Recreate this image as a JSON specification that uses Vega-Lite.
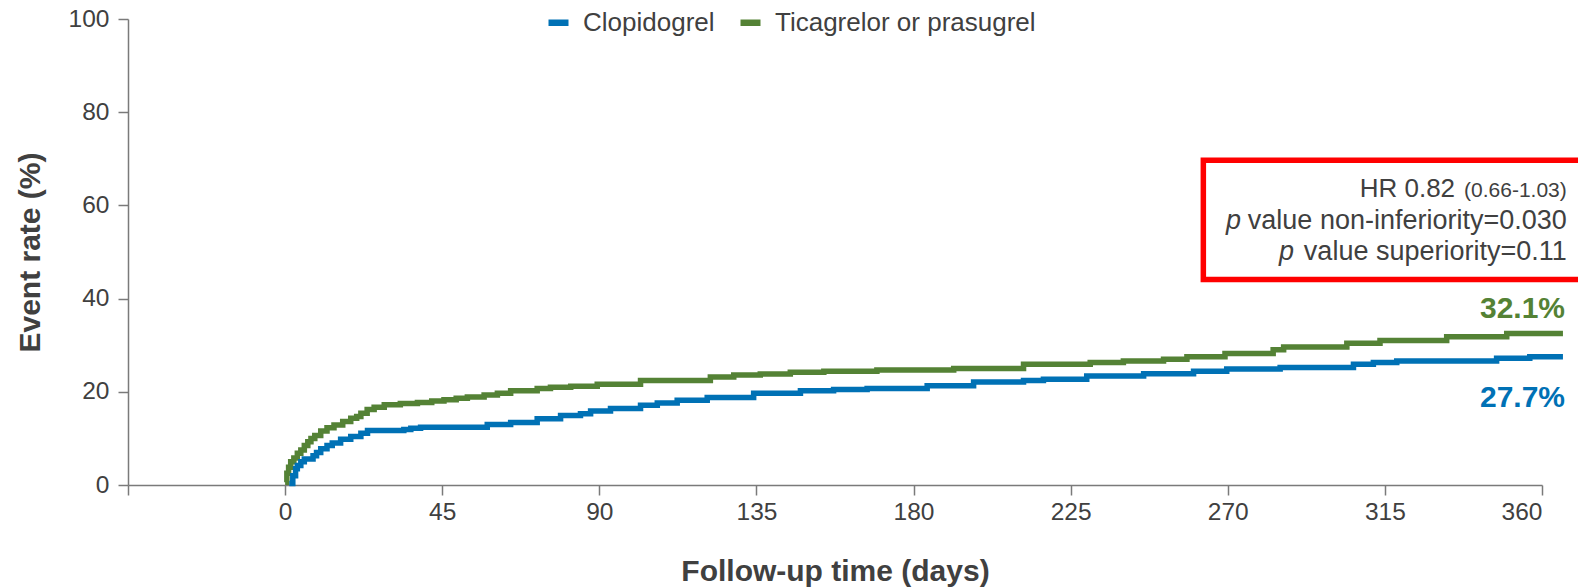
{
  "$schema": "https://vega.github.io/schema/vega-lite/v6.json",
  "width": 1414,
  "height": 466,
  "autosize": {"type": "none"},
  "padding": {"left": 128, "top": 19, "right": 36, "bottom": 102},
  "config": {
    "font": "Liberation Sans",
    "view": {"stroke": null},
    "axis": {
      "grid": false,
      "domainColor": "#7a7a7a",
      "domainWidth": 1.5,
      "tickColor": "#7a7a7a",
      "tickWidth": 1.5,
      "tickSize": 10,
      "labelFont": "Liberation Sans",
      "labelFontSize": 24.5,
      "labelColor": "#404040",
      "titleFont": "Liberation Sans",
      "titleFontSize": 30,
      "titleFontWeight": "bold",
      "titleColor": "#404040"
    }
  },
  "datasets": {
    "km": [
      {"group": "Ticagrelor or prasugrel", "day": 0, "pct": 0.6},
      {"group": "Ticagrelor or prasugrel", "day": 0.5, "pct": 2.5},
      {"group": "Ticagrelor or prasugrel", "day": 1, "pct": 3.8},
      {"group": "Ticagrelor or prasugrel", "day": 1.6, "pct": 5.0},
      {"group": "Ticagrelor or prasugrel", "day": 2.5, "pct": 5.8},
      {"group": "Ticagrelor or prasugrel", "day": 3.5, "pct": 6.8},
      {"group": "Ticagrelor or prasugrel", "day": 4.5, "pct": 7.5},
      {"group": "Ticagrelor or prasugrel", "day": 5.5, "pct": 8.5},
      {"group": "Ticagrelor or prasugrel", "day": 6.5, "pct": 9.3},
      {"group": "Ticagrelor or prasugrel", "day": 7.4, "pct": 10.0},
      {"group": "Ticagrelor or prasugrel", "day": 8.5, "pct": 10.6},
      {"group": "Ticagrelor or prasugrel", "day": 10.2, "pct": 11.6},
      {"group": "Ticagrelor or prasugrel", "day": 12, "pct": 12.3},
      {"group": "Ticagrelor or prasugrel", "day": 14, "pct": 12.9},
      {"group": "Ticagrelor or prasugrel", "day": 16.5, "pct": 13.6},
      {"group": "Ticagrelor or prasugrel", "day": 18.8, "pct": 14.3},
      {"group": "Ticagrelor or prasugrel", "day": 20.5, "pct": 14.7},
      {"group": "Ticagrelor or prasugrel", "day": 21.7, "pct": 15.4},
      {"group": "Ticagrelor or prasugrel", "day": 23.5, "pct": 16.2},
      {"group": "Ticagrelor or prasugrel", "day": 25.5, "pct": 16.7},
      {"group": "Ticagrelor or prasugrel", "day": 28.4, "pct": 17.2},
      {"group": "Ticagrelor or prasugrel", "day": 33, "pct": 17.5},
      {"group": "Ticagrelor or prasugrel", "day": 37.9, "pct": 17.7},
      {"group": "Ticagrelor or prasugrel", "day": 42, "pct": 18.0},
      {"group": "Ticagrelor or prasugrel", "day": 45.5, "pct": 18.3},
      {"group": "Ticagrelor or prasugrel", "day": 49, "pct": 18.6},
      {"group": "Ticagrelor or prasugrel", "day": 52.2, "pct": 18.9},
      {"group": "Ticagrelor or prasugrel", "day": 57, "pct": 19.3},
      {"group": "Ticagrelor or prasugrel", "day": 60.8, "pct": 19.7},
      {"group": "Ticagrelor or prasugrel", "day": 64.6, "pct": 20.2},
      {"group": "Ticagrelor or prasugrel", "day": 72.2, "pct": 20.7},
      {"group": "Ticagrelor or prasugrel", "day": 76, "pct": 21.0},
      {"group": "Ticagrelor or prasugrel", "day": 81.8, "pct": 21.2},
      {"group": "Ticagrelor or prasugrel", "day": 89.4, "pct": 21.6},
      {"group": "Ticagrelor or prasugrel", "day": 101.8, "pct": 22.4},
      {"group": "Ticagrelor or prasugrel", "day": 121.8, "pct": 23.2},
      {"group": "Ticagrelor or prasugrel", "day": 128.5, "pct": 23.6},
      {"group": "Ticagrelor or prasugrel", "day": 136.1, "pct": 23.8},
      {"group": "Ticagrelor or prasugrel", "day": 144.7, "pct": 24.2},
      {"group": "Ticagrelor or prasugrel", "day": 154.3, "pct": 24.4},
      {"group": "Ticagrelor or prasugrel", "day": 169.5, "pct": 24.7},
      {"group": "Ticagrelor or prasugrel", "day": 191.5, "pct": 25.0},
      {"group": "Ticagrelor or prasugrel", "day": 211.5, "pct": 25.9},
      {"group": "Ticagrelor or prasugrel", "day": 230.6, "pct": 26.3},
      {"group": "Ticagrelor or prasugrel", "day": 240.1, "pct": 26.6},
      {"group": "Ticagrelor or prasugrel", "day": 251.6, "pct": 27.0},
      {"group": "Ticagrelor or prasugrel", "day": 258.3, "pct": 27.5},
      {"group": "Ticagrelor or prasugrel", "day": 269.2, "pct": 28.2},
      {"group": "Ticagrelor or prasugrel", "day": 283, "pct": 29.0},
      {"group": "Ticagrelor or prasugrel", "day": 286, "pct": 29.6},
      {"group": "Ticagrelor or prasugrel", "day": 304.1, "pct": 30.4},
      {"group": "Ticagrelor or prasugrel", "day": 313.6, "pct": 31.0},
      {"group": "Ticagrelor or prasugrel", "day": 332.7, "pct": 31.8},
      {"group": "Ticagrelor or prasugrel", "day": 349.9, "pct": 32.5},
      {"group": "Ticagrelor or prasugrel", "day": 366, "pct": 32.5},
      {"group": "Clopidogrel", "day": 1.2, "pct": 0.3},
      {"group": "Clopidogrel", "day": 2.2, "pct": 2.0},
      {"group": "Clopidogrel", "day": 3, "pct": 3.5},
      {"group": "Clopidogrel", "day": 3.5, "pct": 4.2},
      {"group": "Clopidogrel", "day": 4.5, "pct": 5.0},
      {"group": "Clopidogrel", "day": 5.5, "pct": 5.6},
      {"group": "Clopidogrel", "day": 8, "pct": 6.3},
      {"group": "Clopidogrel", "day": 9, "pct": 7.0},
      {"group": "Clopidogrel", "day": 10.2, "pct": 7.8},
      {"group": "Clopidogrel", "day": 12, "pct": 8.5},
      {"group": "Clopidogrel", "day": 13.5, "pct": 9.0},
      {"group": "Clopidogrel", "day": 15.9, "pct": 9.8},
      {"group": "Clopidogrel", "day": 18.8, "pct": 10.4},
      {"group": "Clopidogrel", "day": 21.7, "pct": 11.1},
      {"group": "Clopidogrel", "day": 23.6, "pct": 11.7},
      {"group": "Clopidogrel", "day": 34, "pct": 11.9},
      {"group": "Clopidogrel", "day": 36, "pct": 12.2},
      {"group": "Clopidogrel", "day": 38.8, "pct": 12.4},
      {"group": "Clopidogrel", "day": 57.9, "pct": 13.0},
      {"group": "Clopidogrel", "day": 64.6, "pct": 13.4},
      {"group": "Clopidogrel", "day": 72.2, "pct": 14.2},
      {"group": "Clopidogrel", "day": 78.9, "pct": 14.9},
      {"group": "Clopidogrel", "day": 84.6, "pct": 15.3},
      {"group": "Clopidogrel", "day": 87.5, "pct": 15.9},
      {"group": "Clopidogrel", "day": 93.2, "pct": 16.4},
      {"group": "Clopidogrel", "day": 101.8, "pct": 17.1},
      {"group": "Clopidogrel", "day": 106.6, "pct": 17.6},
      {"group": "Clopidogrel", "day": 112.3, "pct": 18.2},
      {"group": "Clopidogrel", "day": 120.9, "pct": 18.8},
      {"group": "Clopidogrel", "day": 134.2, "pct": 19.7},
      {"group": "Clopidogrel", "day": 147.6, "pct": 20.2},
      {"group": "Clopidogrel", "day": 157.1, "pct": 20.5},
      {"group": "Clopidogrel", "day": 166.7, "pct": 20.7},
      {"group": "Clopidogrel", "day": 183.9, "pct": 21.3},
      {"group": "Clopidogrel", "day": 197.2, "pct": 22.1},
      {"group": "Clopidogrel", "day": 211.5, "pct": 22.4},
      {"group": "Clopidogrel", "day": 217.2, "pct": 22.7},
      {"group": "Clopidogrel", "day": 229.6, "pct": 23.4},
      {"group": "Clopidogrel", "day": 245.9, "pct": 23.9},
      {"group": "Clopidogrel", "day": 260.2, "pct": 24.4},
      {"group": "Clopidogrel", "day": 269.7, "pct": 24.9},
      {"group": "Clopidogrel", "day": 285, "pct": 25.2},
      {"group": "Clopidogrel", "day": 306, "pct": 25.9},
      {"group": "Clopidogrel", "day": 311.7, "pct": 26.3},
      {"group": "Clopidogrel", "day": 318.4, "pct": 26.6},
      {"group": "Clopidogrel", "day": 347, "pct": 27.2},
      {"group": "Clopidogrel", "day": 356.5, "pct": 27.5},
      {"group": "Clopidogrel", "day": 366, "pct": 27.5}
    ],
    "endlabels": [
      {"group": "Ticagrelor or prasugrel", "day": 366.6, "pct": 35.8, "text": "32.1%"},
      {"group": "Clopidogrel", "day": 366.6, "pct": 16.8, "text": "27.7%"}
    ],
    "box": [
      {"day": 263, "day2": 380, "pct": 44.1, "pct2": 69.7}
    ],
    "boxtext": [
      {"part": "hr", "day": 335.1, "pct": 61.9, "text": "HR 0.82"},
      {"part": "ci", "day": 367.1, "pct": 61.9, "text": "(0.66-1.03)"},
      {"part": "italic", "day": 269.5, "pct": 54.9, "text": "p"},
      {"part": "main", "day": 367.1, "pct": 54.9, "text": "value non-inferiority=0.030"},
      {"part": "italic", "day": 284.7, "pct": 48.3, "text": "p"},
      {"part": "main", "day": 367.1, "pct": 48.3, "text": "value superiority=0.11"}
    ]
  },
  "layer": [
    {
      "data": {"name": "box"},
      "mark": {"type": "rect", "fill": null, "stroke": "#ff0000", "strokeWidth": 5.5, "clip": false},
      "encoding": {
        "x": {
          "field": "day", "type": "quantitative",
          "scale": {"domain": [-45, 360], "nice": false, "zero": false},
          "axis": {
            "values": [-45, 0, 45, 90, 135, 180, 225, 270, 315, 360],
            "labelExpr": "datum.value < 0 ? '' : datum.label",
            "labelPadding": 5,
            "title": "Follow-up time (days)",
            "titlePadding": 33
          }
        },
        "x2": {"field": "day2"},
        "y": {
          "field": "pct", "type": "quantitative",
          "scale": {"domain": [0, 100], "nice": false},
          "axis": {
            "values": [0, 20, 40, 60, 80, 100],
            "labelPadding": 9,
            "title": "Event rate (%)",
            "titlePadding": 23
          }
        },
        "y2": {"field": "pct2"}
      }
    },
    {
      "data": {"name": "km"},
      "mark": {"type": "line", "interpolate": "step-after", "strokeWidth": 5.5, "clip": false},
      "encoding": {
        "x": {"field": "day", "type": "quantitative"},
        "y": {"field": "pct", "type": "quantitative"},
        "color": {
          "field": "group", "type": "nominal",
          "scale": {"domain": ["Clopidogrel", "Ticagrelor or prasugrel"], "range": ["#0071B5", "#548235"]},
          "legend": {
            "orient": "none",
            "legendX": 417,
            "legendY": -10,
            "direction": "horizontal",
            "title": null,
            "symbolType": "stroke",
            "symbolSize": 400,
            "symbolStrokeWidth": 6.5,
            "labelFontSize": 26,
            "labelLimit": 0,
            "labelColor": "#404040",
            "labelOffset": 11,
            "columnPadding": 12,
            "padding": 0
          }
        }
      }
    },
    {
      "data": {"name": "endlabels"},
      "transform": [{"filter": "datum.group === 'Ticagrelor or prasugrel'"}],
      "mark": {"type": "text", "align": "right", "baseline": "alphabetic", "fontSize": 30, "fontWeight": "bold", "color": "#548235", "clip": false},
      "encoding": {
        "x": {"field": "day", "type": "quantitative"},
        "y": {"field": "pct", "type": "quantitative"},
        "text": {"field": "text"}
      }
    },
    {
      "data": {"name": "endlabels"},
      "transform": [{"filter": "datum.group === 'Clopidogrel'"}],
      "mark": {"type": "text", "align": "right", "baseline": "alphabetic", "fontSize": 30, "fontWeight": "bold", "color": "#0071B5", "clip": false},
      "encoding": {
        "x": {"field": "day", "type": "quantitative"},
        "y": {"field": "pct", "type": "quantitative"},
        "text": {"field": "text"}
      }
    },
    {
      "data": {"name": "boxtext"},
      "transform": [{"filter": "datum.part === 'main'"}],
      "mark": {"type": "text", "align": "right", "baseline": "alphabetic", "fontSize": 27, "color": "#404040", "clip": false},
      "encoding": {
        "x": {"field": "day", "type": "quantitative"},
        "y": {"field": "pct", "type": "quantitative"},
        "text": {"field": "text"}
      }
    },
    {
      "data": {"name": "boxtext"},
      "transform": [{"filter": "datum.part === 'hr'"}],
      "mark": {"type": "text", "align": "right", "baseline": "alphabetic", "fontSize": 26, "color": "#404040", "clip": false},
      "encoding": {
        "x": {"field": "day", "type": "quantitative"},
        "y": {"field": "pct", "type": "quantitative"},
        "text": {"field": "text"}
      }
    },
    {
      "data": {"name": "boxtext"},
      "transform": [{"filter": "datum.part === 'ci'"}],
      "mark": {"type": "text", "align": "right", "baseline": "alphabetic", "fontSize": 21, "color": "#404040", "clip": false},
      "encoding": {
        "x": {"field": "day", "type": "quantitative"},
        "y": {"field": "pct", "type": "quantitative"},
        "text": {"field": "text"}
      }
    },
    {
      "data": {"name": "boxtext"},
      "transform": [{"filter": "datum.part === 'italic'"}],
      "mark": {"type": "text", "align": "left", "baseline": "alphabetic", "fontSize": 27, "fontStyle": "italic", "color": "#404040", "clip": false},
      "encoding": {
        "x": {"field": "day", "type": "quantitative"},
        "y": {"field": "pct", "type": "quantitative"},
        "text": {"field": "text"}
      }
    }
  ]
}
